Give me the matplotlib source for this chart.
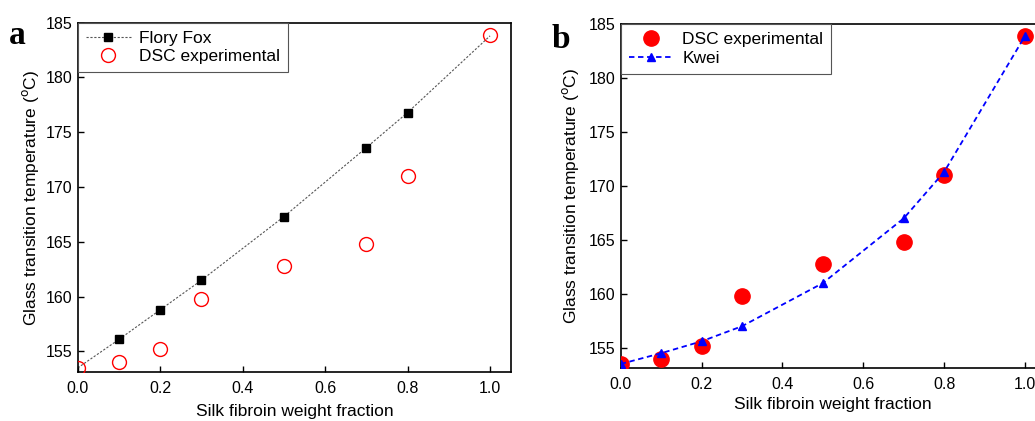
import matplotlib
matplotlib.use("Agg")
import matplotlib.pyplot as plt

plt.rcParams["font.family"] = ["Liberation Sans", "DejaVu Sans"]

# ── data ─────────────────────────────────────
x_frac = [0.0, 0.1, 0.2, 0.3, 0.5, 0.7, 0.8, 1.0]
tg_flory_fox = [153.5, 156.1, 158.8, 161.5, 167.3, 173.6, 176.8, 183.8]
tg_dsc = [153.5, 154.0, 155.2, 159.8, 162.8, 164.8, 171.0, 183.9]
tg_kwei = [153.5, 154.5, 155.6, 157.0, 161.0, 167.0, 171.3, 183.9]

x_ticks = [0.0, 0.2, 0.4, 0.6, 0.8, 1.0]
y_ticks = [155, 160, 165, 170, 175, 180, 185]

fig = plt.figure(figsize=(10.35, 4.21), dpi=100)
ax_a = fig.add_axes([0.0751, 0.1157, 0.4187, 0.8304])
ax_b = fig.add_axes([0.5997, 0.1252, 0.4101, 0.8171])


def style_axes(ax, xmax):
    ax.set_xlim(0, xmax)
    ax.set_ylim(153.1, 185)
    ax.set_xticks(x_ticks)
    ax.set_yticks(y_ticks)
    ax.set_xticklabels([f"{v:.1f}" for v in x_ticks])
    ax.tick_params(direction="in", length=4, width=1, labelsize=11.5,
                   top=False, right=False)
    ax.tick_params(axis="x", pad=6)
    for sp in ax.spines.values():
        sp.set_linewidth(1.2)
    ax.set_ylabel("Glass transition temperature ($^{\\rm o}$C)", fontsize=12.5)


def add_legend(ax):
    leg = ax.legend(loc="upper left", bbox_to_anchor=(0, 1), borderaxespad=0,
                    fontsize=12.5, fancybox=False, edgecolor="#555555",
                    framealpha=1, handlelength=2.6, handletextpad=0.5,
                    labelspacing=0.2, borderpad=0.45)
    leg.get_frame().set_linewidth(0.8)
    return leg


# ── panel a ──────────────────────────────────
ax_a.plot(x_frac, tg_flory_fox, ls=(0, (2, 1.5)), lw=0.8, color="#555555",
          marker="s", ms=5.5, mfc="black", mec="black", label="Flory Fox",
          markevery=slice(1, 7))
ax_a.plot(x_frac, tg_dsc, ls="none", marker="o", ms=10, mfc="none",
          mec="red", mew=1.0, label="DSC experimental", zorder=4)
style_axes(ax_a, 1.051)
ax_a.set_xlabel("Silk fibroin weight fraction", fontsize=12.5, labelpad=6)
ax_a.yaxis.labelpad = 4
add_legend(ax_a)
fig.text(0.009, 0.895, "a", fontsize=24, fontweight="bold",
         family="Liberation Serif")

# ── panel b ──────────────────────────────────
ax_b.plot(x_frac, tg_dsc, ls="none", marker="o", ms=11, mfc="red",
          mec="red", label="DSC experimental", zorder=3)
ax_b.plot(x_frac, tg_kwei, ls=(0, (3, 2)), lw=1.3, color="blue",
          marker="^", ms=6, mfc="blue", mec="blue", label="Kwei",
          zorder=4)
style_axes(ax_b, 1.05)
ax_b.set_xlabel("Silk fibroin weight fraction", fontsize=12.5, labelpad=4)
ax_b.yaxis.labelpad = 6
add_legend(ax_b)
fig.text(0.533, 0.885, "b", fontsize=24, fontweight="bold",
         family="Liberation Serif")

fig.savefig("out.png", dpi=100)
